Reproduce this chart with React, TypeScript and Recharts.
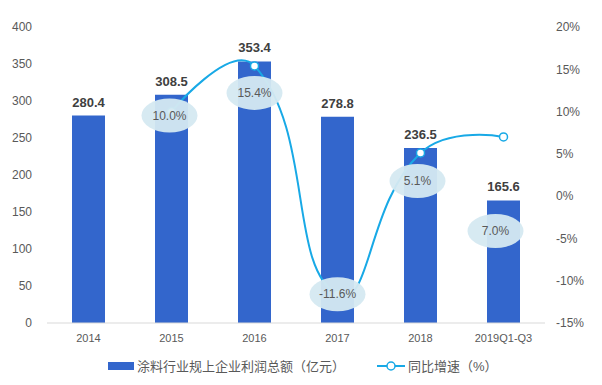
import React from 'react';
import { Bar, ComposedChart, LabelList, Line, XAxis, YAxis } from 'recharts';

const years = ['2014', '2015', '2016', '2017', '2018', '2019Q1-Q3'];
const profit = [280.4, 308.5, 353.4, 278.8, 236.5, 165.6];
const growth: (number | null)[] = [null, 10.0, 15.4, -11.6, 5.1, 7.0];
const leftTicks = [0, 50, 100, 150, 200, 250, 300, 350, 400];
const rightTicks = [-15, -10, -5, 0, 5, 10, 15, 20];

const barName = '涂料行业规上企业利润总额（亿元）';
const lineName = '同比增速（%）';

const chartData = years.map((year, i) => ({ year, profit: profit[i], growth: growth[i] }));

// where each growth bubble sits relative to its point (px)
const bubbleShift = [
  [0, 0],
  [-2, 4],
  [0, 27],
  [0, 0],
  [-3, 28],
  [-8, 94],
];

const BAR_COLOR = '#3366cc';
const LINE_COLOR = '#18a9e6';
const TEXT = '#595959';
const FONT = '"Liberation Sans", Arial, "Noto Sans CJK SC", sans-serif';

// smooth bezier through the points, like the echarts "smooth: true" line
function smoothCurve(context: any) {
  let pts: number[][] = [];
  const k = 0.5;
  return {
    areaStart() {},
    areaEnd() {},
    lineStart() {
      pts = [];
    },
    point(x: number, y: number) {
      pts.push([+x, +y]);
    },
    lineEnd() {
      if (!pts.length) return;
      const n = pts.length;
      const cpIn: number[][] = [];
      const cpOut: number[][] = [];
      for (let i = 0; i < n; i++) {
        const p = pts[i];
        if (i === 0 || i === n - 1) {
          cpIn.push(p);
          cpOut.push(p);
          continue;
        }
        const prev = pts[i - 1];
        const next = pts[i + 1];
        const vx = next[0] - prev[0];
        const vy = next[1] - prev[1];
        const d0 = Math.hypot(p[0] - prev[0], p[1] - prev[1]);
        const d1 = Math.hypot(next[0] - p[0], next[1] - p[1]);
        const r = d1 / (d0 + d1);
        cpOut.push([p[0] + vx * k * r, p[1] + vy * k * r]);
        cpIn.push([p[0] - vx * k * (1 - r), p[1] - vy * k * (1 - r)]);
      }
      context.moveTo(pts[0][0], pts[0][1]);
      for (let i = 1; i < n; i++) {
        context.bezierCurveTo(cpOut[i - 1][0], cpOut[i - 1][1], cpIn[i][0], cpIn[i][1], pts[i][0], pts[i][1]);
      }
    },
  };
}

function Bubble(props: any) {
  const { x, y, value, index } = props;
  if (value == null) return null;
  const [dx, dy] = bubbleShift[index] || [0, 0];
  const cx = x + dx;
  const cy = y + dy;
  return (
    <g>
      <ellipse cx={cx} cy={cy} rx={28} ry={17} fill="#d5e9f1" fillOpacity={0.95} />
      <text x={cx} y={cy} textAnchor="middle" dominantBaseline="central" fontSize={12} fill={TEXT} fontFamily={FONT}>
        {`${value.toFixed(1)}%`}
      </text>
    </g>
  );
}

function LegendBox() {
  return (
    <div
      style={{
        position: 'absolute',
        left: 108,
        top: 356,
        display: 'flex',
        alignItems: 'center',
        fontFamily: FONT,
        fontSize: 13,
        color: TEXT,
        whiteSpace: 'nowrap',
      }}
    >
      <span style={{ display: 'inline-block', width: 26, height: 8, background: BAR_COLOR, marginRight: 3 }} />
      <span>{barName}</span>
      <svg width={28} height={12} style={{ marginLeft: 32, marginRight: 3 }}>
        <line x1={0} y1={6} x2={28} y2={6} stroke={LINE_COLOR} strokeWidth={2} />
        <circle cx={14} cy={6} r={4} fill="#fff" stroke={LINE_COLOR} strokeWidth={1.5} />
      </svg>
      <span>{lineName}</span>
    </div>
  );
}

export default function App() {
  return (
    <div style={{ position: 'absolute', left: 0, top: 0, width: 602, height: 385, background: '#fff' }}>
      <ComposedChart width={602} height={385} data={chartData} margin={{ top: 27, right: 0, bottom: 32, left: 0 }}>
        <XAxis
          dataKey="year"
          axisLine={{ stroke: '#d9d9d9' }}
          tickLine={false}
          tickMargin={5}
          height={30}
          tick={{ fill: TEXT, fontSize: 11, fontFamily: FONT }}
          interval={0}
        />
        <YAxis
          yAxisId="left"
          domain={[0, 400]}
          ticks={leftTicks}
          width={47}
          axisLine={false}
          tickLine={false}
          tickMargin={9}
          tick={{ fill: TEXT, fontSize: 12, fontFamily: FONT }}
        />
        <YAxis
          yAxisId="right"
          orientation="right"
          domain={[-15, 20]}
          ticks={rightTicks}
          width={57}
          axisLine={false}
          tickLine={false}
          tickMargin={5}
          tickFormatter={(v) => `${v}%`}
          tick={{ fill: TEXT, fontSize: 12, fontFamily: FONT }}
        />
        <Bar yAxisId="left" dataKey="profit" name={barName} fill={BAR_COLOR} barSize={33} isAnimationActive={false}>
          <LabelList
            dataKey="profit"
            position="top"
            offset={9}
            style={{ fill: '#404040', fontSize: 13, fontWeight: 'bold', fontFamily: FONT }}
          />
        </Bar>
        <Line
          yAxisId="right"
          dataKey="growth"
          name={lineName}
          type={smoothCurve as any}
          stroke={LINE_COLOR}
          strokeWidth={2}
          dot={{ r: 4, fill: '#fff', stroke: LINE_COLOR, strokeWidth: 1.5 }}
          activeDot={false}
          isAnimationActive={false}
        >
          <LabelList dataKey="growth" content={<Bubble />} />
        </Line>
      </ComposedChart>
      <LegendBox />
    </div>
  );
}
